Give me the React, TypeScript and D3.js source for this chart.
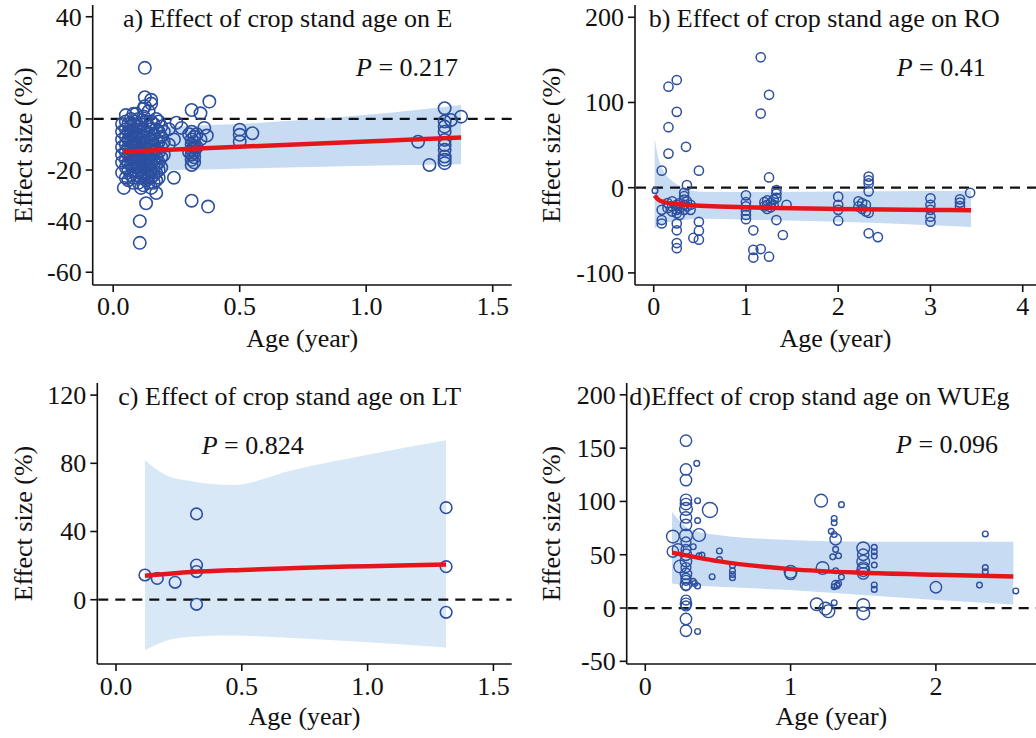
import * as d3 from "d3";

const FONT = '"Liberation Serif", "Times New Roman", Times, serif';
const BLUE = "#2d4f9f";
const RED = "#e6151c";
const BAND = "#c7dcf2";
const BAND_LIGHT = "#d9e8f7";

type Col = [number, number[]];

// a) E : points grouped by stand age (year) -> effect sizes (%)
const colsA: Col[] = [
  [0.035, [-2, -5, -8, -11, -14, -17, -21]],
  [0.042, [-27]],
  [0.05, [1.5, -1, -4, -7, -10, -13, -16, -19, -23]],
  [0.06, [-2, -5, -8, -11, -14, -17, -20, -24]],
  [0.07, [0, -3, -6, -9, -12, -15, -18, -22]],
  [0.08, [2, -2, -5, -8, -11, -14, -17, -20, -23, -25]],
  [0.09, [2, -1, -4, -7, -10, -13, -16, -19, -22]],
  [0.1, [0, -3, -6, -9, -12, -15, -18, -21, -25]],
  [0.105, [-40, -48.5]],
  [0.11, [-2, -5, -8, -11, -14, -17, -20, -23, -27]],
  [0.12, [4, 1, -4, -7, -10, -13, -16, -19, -22, -26]],
  [0.125, [20, 8.5, 5]],
  [0.13, [-1, -5, -9, -12, -15, -18, -21, -24, -33]],
  [0.14, [3, -3, -6, -9, -12, -15, -18, -22, -25]],
  [0.15, [7.5, 6, -1, -4, -8, -11, -14, -17, -20, -23, -27]],
  [0.16, [-2, -6, -10, -13, -16, -19, -22, -25]],
  [0.17, [0, -4, -8, -12, -15, -18, -21, -24, -29]],
  [0.18, [-1, -5, -9, -13, -17, -20, -23]],
  [0.19, [-3, -7, -11, -15, -19]],
  [0.2, [-5, -9, -14]],
  [0.22, [-4, -10]],
  [0.24, [-8, -23]],
  [0.25, [-1.5]],
  [0.27, [-3.5]],
  [0.3, [-6, -13]],
  [0.31, [3.5, -5, -8, -10, -12, -14, -16, -18, -32]],
  [0.32, [-7, -9, -11, -13, -15, -17]],
  [0.33, [-6, -11]],
  [0.345, [2.2, -8]],
  [0.36, [-3.5]],
  [0.37, [-6.5]],
  [0.375, [-34.3]],
  [0.38, [6.8]],
  [0.5, [-4.2, -6.2, -8.8]],
  [0.55, [-5.6]],
  [1.205, [-8.9]],
  [1.25, [-18]],
  [1.31, [4.2, -1, -3, -5, -8.2, -10.2, -12.1, -14.7, -16, -17.3]],
  [1.335, [-0.4]],
  [1.375, [0.9]],
];
const fitAgeA = [0.04, 1.375];
const fitEffA = [-12.8, -7.3];
const bandAgeA = [0.04, 0.25, 0.55, 1.0, 1.375];
const bandLowA = [-20.5, -20, -19.3, -18.3, -17.7];
const bandHighA = [-4.5, -3, -1.7, 1.6, 5.5];

// b) RO
const colsB: Col[] = [
  [0.087, [20, -26, -38, -42]],
  [0.15, [-18, -24]],
  [0.16, [118.5, 71, 40]],
  [0.2, [-16, -22, -28]],
  [0.25, [126.4, 89, -20, -26, -30, -42, -50, -65, -71]],
  [0.28, [-18, -24, -32]],
  [0.33, [-6, -10, -14, -20, -26]],
  [0.35, [48]],
  [0.36, [3, -16, -22]],
  [0.4, [-20, -26]],
  [0.43, [-59]],
  [0.49, [20, -40, -50.5, -61]],
  [1.0, [-9, -17, -22, -27, -32, -37]],
  [1.08, [-50, -73, -82]],
  [1.16, [87, 153, -72]],
  [1.2, [-17, -22]],
  [1.23, [-15, -20, -25]],
  [1.25, [109, 12, -81]],
  [1.27, [-18, -23]],
  [1.3, [-14, -20]],
  [1.33, [-2.7, -7, -12, -38]],
  [1.4, [-55.5]],
  [1.44, [-20]],
  [2.0, [-10.5, -20, -26, -38.7]],
  [2.22, [-16, -22]],
  [2.26, [-18, -25]],
  [2.3, [-20, -28]],
  [2.33, [13, 8.5, 5, -4.3, -29.5, -53.5]],
  [2.43, [-58]],
  [3.0, [-12.5, -20, -26, -34, -40]],
  [3.32, [-13.7, -17.5, -21.5]],
  [3.43, [-6]],
];
const smallB: [number, number][] = [[0.014, -3.5]];
const fitAgeB = [0.01, 0.05, 0.1, 0.2, 0.4, 0.7, 1, 1.5, 2, 2.5, 3, 3.44];
const fitEffB = [-9, -14, -16.5, -18.5, -20.5, -22, -23, -24.2, -25, -25.6, -26.1, -26.5];
const bandAgeB = [0.01, 0.05, 0.1, 0.2, 0.3, 0.5, 1, 2, 3, 3.44];
const bandHighB = [58, 35, 21, 8, 1, -4.7, -5, -4.5, -4, -3.5];
const bandLowB = [-48, -45, -42, -40, -38.5, -36.5, -37.5, -40, -44, -46];

// c) LT
const colsC: Col[] = [
  [0.115, [14.5]],
  [0.164, [12.5]],
  [0.235, [10.2]],
  [0.32, [50.3, 20.3, 16.5, -2.7]],
  [1.312, [54, 19.4, -7.4]],
];
const fitAgeC = [0.115, 0.3, 0.5, 0.75, 1.0, 1.312];
const fitEffC = [14, 16.2, 17.5, 18.8, 19.7, 20.7];
const bandAgeC = [0.115, 0.2, 0.3, 0.466, 0.7, 1.0, 1.312];
const bandHighC = [82, 73, 69.5, 67.3, 76, 85, 93.5];
const bandLowC = [-29.5, -24, -21.7, -21, -22.5, -25, -28];

// d) WUEg : [age, effect, weight]
const pointsD: [number, number, number][] = [
  [0.28, 157, 4], [0.28, 130, 4], [0.28, 120, 4], [0.28, 101.5, 4], [0.28, 97.5, 4],
  [0.28, 93, 5], [0.28, 85, 4], [0.28, 78, 4], [0.28, 68, 5], [0.28, 62, 3],
  [0.28, 55, 3], [0.28, 50, 4], [0.28, 44, 4], [0.28, 38, 3], [0.28, 32, 4],
  [0.28, 28, 3], [0.28, 26, 3], [0.28, 22, 4], [0.28, 20, 2], [0.28, 7.5, 3],
  [0.28, 4, 4], [0.28, 2, 3], [0.28, -10.3, 4], [0.28, -21.3, 4],
  [0.19, 67, 5], [0.225, 55, 4], [0.19, 53, 4], [0.24, 39, 5], [0.37, 68.5, 5], [0.445, 92, 7],
  [0.354, 135.7, 1], [0.36, 100.7, 1], [0.36, 82, 1], [0.33, 57.5, 1], [0.37, 49, 1],
  [0.39, 49.7, 1], [0.36, 20.6, 1], [0.34, 23, 1], [0.33, 25, 1], [0.36, -22, 1],
  [0.51, 53.5, 1], [0.51, 45.5, 1], [0.46, 29.4, 1],
  [0.6, 40, 1], [0.6, 35, 1], [0.6, 31.5, 1], [0.6, 28.4, 1],
  [1.0, 34, 5], [1.0, 32, 4],
  [1.21, 100.7, 5], [1.22, 37.5, 5], [1.18, 3.5, 5], [1.24, -0.5, 5], [1.26, -3, 5], [1.3, 5, 1],
  [1.35, 97, 1], [1.3, 84, 1], [1.3, 80, 1], [1.28, 72, 1], [1.3, 69, 1], [1.31, 64.5, 4],
  [1.31, 55, 1], [1.33, 49, 1], [1.29, 48, 1], [1.31, 35, 1], [1.35, 29, 1],
  [1.31, 22, 2], [1.32, 21, 1], [1.3, 20, 1], [1.33, 23, 1],
  [1.5, 56, 5], [1.5, 50, 4], [1.5, 43.4, 5], [1.5, 38, 4], [1.5, 35.6, 5], [1.5, 32.5, 4],
  [1.5, 2.8, 5], [1.5, -5, 5],
  [1.576, 57, 1], [1.576, 52.8, 1], [1.576, 48.8, 1], [1.576, 40.3, 1], [1.576, 21.6, 1], [1.576, 17.5, 1],
  [2.0, 19.5, 4], [2.3, 21.5, 1], [2.34, 69.5, 1], [2.34, 38, 1], [2.34, 34, 1], [2.55, 16, 1],
];
const fitAgeD = [0.184, 0.5, 1, 1.5, 2, 2.533];
const fitEffD = [52, 44, 36.5, 33, 31.2, 29.5];
const bandAgeD = [0.184, 0.3, 0.5, 1.0, 1.5, 2.0, 2.533];
const bandHighD = [90.3, 74.7, 68.5, 63.8, 62.2, 62.2, 62.2];
const bandLowD = [23.1, 21.5, 20, 16.9, 12.2, 7.5, 3.4];

const flat = (cols: Col[]) =>
  cols.flatMap(([a, ys]) => ys.map((v) => [a, v, 0] as [number, number, number]));

interface PanelProps {
  left: number; right: number; top: number; bottom: number;
  xDomain: [number, number]; yDomain: [number, number];
  xTicks: number[]; xFormat: (v: number) => string; yTicks: number[];
  points: [number, number, number][];
  radius: (w: number) => number;
  strokeW: number;
  fitAge: number[]; fitEff: number[];
  bandAge: number[]; bandLow: number[]; bandHigh: number[];
  bandColor: string;
  title: string; titleX: number; titleY: number;
  pText: string; pX: number; pY: number;
  yLabelX: number; tickLabelDy: number; xLabelDy: number;
}

function Panel(p: PanelProps) {
  const x = d3.scaleLinear().domain(p.xDomain).range([p.left, p.right]);
  const y = d3.scaleLinear().domain(p.yDomain).range([p.bottom, p.top]);
  const idx = p.bandAge.map((_, i) => i);
  const area = d3.area<number>()
    .x((i) => x(p.bandAge[i]))
    .y0((i) => y(p.bandLow[i]))
    .y1((i) => y(p.bandHigh[i]))
    .curve(d3.curveMonotoneX);
  const line = d3.line<number>()
    .x((i) => x(p.fitAge[i]))
    .y((i) => y(p.fitEff[i]))
    .curve(d3.curveMonotoneX);
  const fitIdx = p.fitAge.map((_, i) => i);
  const fs = 26;
  return (
    <g fontFamily={FONT} fill="#111">
      <path d={area(idx) ?? ""} fill={p.bandColor} stroke="none" />
      <line x1={p.left + 1} x2={p.right} y1={y(0)} y2={y(0)} stroke="#111" strokeWidth={2.2} strokeDasharray="10,7" />
      {p.points.map(([a, v, w], i) => (
        <circle key={i} cx={x(a)} cy={y(v)} r={p.radius(w)} fill="none" stroke={BLUE} strokeWidth={p.strokeW} />
      ))}
      <path d={line(fitIdx) ?? ""} fill="none" stroke={RED} strokeWidth={4.5} />
      {/* axes */}
      <line x1={p.left} x2={p.left} y1={p.top} y2={p.bottom} stroke="#111" strokeWidth={1.6} />
      <line x1={p.left} x2={p.right} y1={p.bottom} y2={p.bottom} stroke="#111" strokeWidth={1.6} />
      {p.yTicks.map((t) => (
        <g key={"y" + t}>
          <line x1={p.left - 7} x2={p.left} y1={y(t)} y2={y(t)} stroke="#111" strokeWidth={1.6} />
          <text x={p.left - 11} y={y(t)} dy="0.34em" textAnchor="end" fontSize={fs}>{t}</text>
        </g>
      ))}
      {p.xTicks.map((t) => (
        <g key={"x" + t}>
          <line x1={x(t)} x2={x(t)} y1={p.bottom} y2={p.bottom + 7} stroke="#111" strokeWidth={1.6} />
          <text x={x(t)} y={p.bottom + p.tickLabelDy} textAnchor="middle" fontSize={fs}>{p.xFormat(t)}</text>
        </g>
      ))}
      <text x={(p.left + p.right) / 2} y={p.bottom + p.xLabelDy} textAnchor="middle" fontSize={fs}>Age (year)</text>
      <text
        transform={`translate(${p.yLabelX},${(p.top + p.bottom) / 2}) rotate(-90)`}
        textAnchor="middle" dy="0.35em" fontSize={fs}
      >Effect size (%)</text>
      <text x={p.titleX} y={p.titleY} fontSize={fs}>{p.title}</text>
      <text x={p.pX} y={p.pY} fontSize={fs}>
        <tspan fontStyle="italic">P</tspan> = {p.pText}
      </text>
    </g>
  );
}

const oneDec = (v: number) => v.toFixed(1);
const int = (v: number) => String(v);
const rScaleD = d3.scaleSqrt().domain([0, 10]).range([0, 9]);

export default function App() {
  return (
    <svg width={1036} height={738} style={{ position: "absolute", left: 0, top: 0, background: "#fff" }}>
      <Panel
        left={92.7} right={511.7} top={5} bottom={285}
        xDomain={[-0.081, 1.575]} yDomain={[-65, 44.6]}
        xTicks={[0, 0.5, 1, 1.5]} xFormat={oneDec} yTicks={[-60, -40, -20, 0, 20, 40]}
        points={flat(colsA)} radius={() => 6.2} strokeW={1.6}
        fitAge={fitAgeA} fitEff={fitEffA}
        bandAge={bandAgeA} bandLow={bandLowA} bandHigh={bandHighA} bandColor={BAND}
        title="a) Effect of crop stand age on E" titleX={123} titleY={27}
        pText="0.217" pX={356} pY={76}
        yLabelX={23} tickLabelDy={30} xLabelDy={62}
      />
      <Panel
        left={635} right={1036} top={5} bottom={285}
        xDomain={[-0.2027, 4.144]} yDomain={[-114.2, 214.4]}
        xTicks={[0, 1, 2, 3, 4]} xFormat={int} yTicks={[-100, 0, 100, 200]}
        points={[...flat(colsB), ...smallB.map(([a, v]) => [a, v, 1] as [number, number, number])]}
        radius={(w) => (w === 1 ? 2.8 : 4.6)} strokeW={1.5}
        fitAge={fitAgeB} fitEff={fitEffB}
        bandAge={bandAgeB} bandLow={bandLowB} bandHigh={bandHighB} bandColor={BAND}
        title="b) Effect of crop stand age on RO" titleX={648.7} titleY={27}
        pText="0.41" pX={896.7} pY={76}
        yLabelX={551} tickLabelDy={30} xLabelDy={62}
      />
      <Panel
        left={97.3} right={511.7} top={383} bottom={664}
        xDomain={[-0.0743, 1.5727]} yDomain={[-37.7, 127.1]}
        xTicks={[0, 0.5, 1, 1.5]} xFormat={oneDec} yTicks={[0, 40, 80, 120]}
        points={flat(colsC)} radius={() => 5.8} strokeW={1.6}
        fitAge={fitAgeC} fitEff={fitEffC}
        bandAge={bandAgeC} bandLow={bandLowC} bandHigh={bandHighC} bandColor={BAND_LIGHT}
        title="c) Effect of crop stand age on LT" titleX={118.3} titleY={405}
        pText="0.824" pX={201.7} pY={454}
        yLabelX={23} tickLabelDy={31} xLabelDy={61}
      />
      <Panel
        left={626.7} right={1036} top={383} bottom={664}
        xDomain={[-0.128, 2.689]} yDomain={[-52.5, 211.1]}
        xTicks={[0, 1, 2]} xFormat={int} yTicks={[-50, 0, 50, 100, 150, 200]}
        points={pointsD} radius={(w) => rScaleD(w)} strokeW={1.4}
        fitAge={fitAgeD} fitEff={fitEffD}
        bandAge={bandAgeD} bandLow={bandLowD} bandHigh={bandHighD} bandColor={BAND}
        title="d)Effect of crop stand age on WUEg" titleX={629.3} titleY={405}
        pText="0.096" pX={896} pY={453}
        yLabelX={551} tickLabelDy={31} xLabelDy={61}
      />
    </svg>
  );
}
